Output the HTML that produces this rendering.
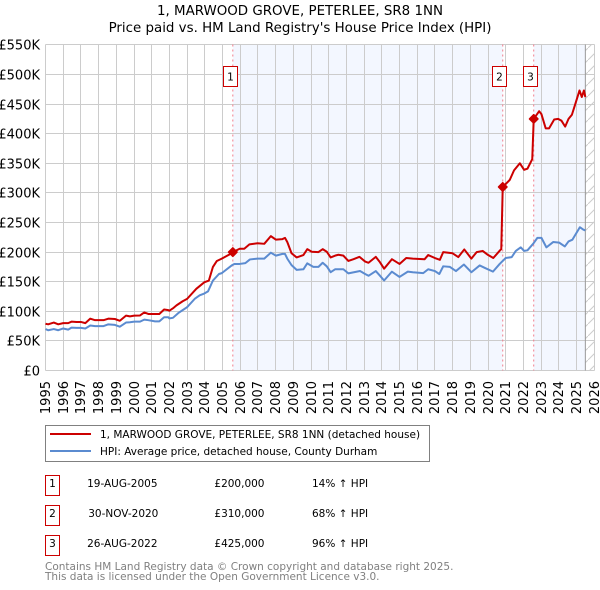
<!DOCTYPE html>
<html lang="en">
<head>
<meta charset="utf-8">
<title>1, MARWOOD GROVE, PETERLEE, SR8 1NN</title>
<style>
html,body{margin:0;padding:0;background:#fff;width:600px;height:590px;overflow:hidden}
svg{display:block}
text{font-family:"DejaVu Sans","Liberation Sans",sans-serif;fill:#000}
</style>
</head>
<body>
<svg id="chart" xmlns="http://www.w3.org/2000/svg" width="600" height="590" viewBox="0 0 600 590">
  <defs>
    <pattern id="hatch" patternUnits="userSpaceOnUse" width="12" height="12">
      <path d="M-1 13 L13 -1" stroke="#cccccc" stroke-width="1"/>
    </pattern>
  </defs>
  <text x="300" y="15" text-anchor="middle" font-size="13.4">1, MARWOOD GROVE, PETERLEE, SR8 1NN</text>
  <text x="300" y="32" text-anchor="middle" font-size="13.4">Price paid vs. HM Land Registry's House Price Index (HPI)</text>
  <g id="plot"></g>

  <g>
    <rect x="45.5" y="425.5" width="384" height="36" fill="#fff" stroke="#808080" stroke-width="1"/>
    <line x1="50" x2="91" y1="434" y2="434" stroke="#cc0000" stroke-width="2"/>
    <text x="100" y="438" font-size="10.5">1, MARWOOD GROVE, PETERLEE, SR8 1NN (detached house)</text>
    <line x1="50" x2="91" y1="451" y2="451" stroke="#5b8bd0" stroke-width="2"/>
    <text x="100" y="455" font-size="10.5">HPI: Average price, detached house, County Durham</text>
  </g>

  <g>
    <rect x="45.5" y="475.5" width="14" height="20" fill="#fff" stroke="#cc0000" stroke-width="1"/>
    <text x="52.5" y="487" text-anchor="middle" font-size="10.5">1</text>
    <text x="122.3" y="487" text-anchor="middle" font-size="10.5">19-AUG-2005</text>
    <text x="264.5" y="487" text-anchor="end" font-size="10.5">£200,000</text>
    <text x="312" y="487" font-size="10.5">14% ↑ HPI</text>

    <rect x="45.5" y="505.5" width="14" height="20" fill="#fff" stroke="#cc0000" stroke-width="1"/>
    <text x="52.5" y="517" text-anchor="middle" font-size="10.5">2</text>
    <text x="123.3" y="517" text-anchor="middle" font-size="10.5">30-NOV-2020</text>
    <text x="264.5" y="517" text-anchor="end" font-size="10.5">£310,000</text>
    <text x="312" y="517" font-size="10.5">68% ↑ HPI</text>

    <rect x="45.5" y="535.5" width="14" height="20" fill="#fff" stroke="#cc0000" stroke-width="1"/>
    <text x="52.5" y="547" text-anchor="middle" font-size="10.5">3</text>
    <text x="122.3" y="547" text-anchor="middle" font-size="10.5">26-AUG-2022</text>
    <text x="264.5" y="547" text-anchor="end" font-size="10.5">£425,000</text>
    <text x="312" y="547" font-size="10.5">96% ↑ HPI</text>
  </g>

  <text x="45" y="570" font-size="10.5" style="fill:#808080">Contains HM Land Registry data © Crown copyright and database right 2025.</text>
  <text x="45" y="580" font-size="10.5" style="fill:#808080">This data is licensed under the Open Government Licence v3.0.</text>
</svg>

<script>
const yearTicks = [1995,1996,1997,1998,1999,2000,2001,2002,2003,2004,2005,2006,2007,2008,2009,2010,2011,2012,2013,2014,2015,2016,2017,2018,2019,2020,2021,2022,2023,2024,2025,2026];
const priceTicks = [0,50,100,150,200,250,300,350,400,450,500,550];
const priceTickLabels = ['£0','£50K','£100K','£150K','£200K','£250K','£300K','£350K','£400K','£450K','£500K','£550K'];

const hpiDates = [1995,1995.15,1995.47,1995.72,1996,1996.28,1996.47,1996.75,1997,1997.25,1997.53,1997.8,1998.28,1998.55,1998.92,1999.2,1999.55,1999.77,2000.02,2000.34,2000.58,2000.81,2001.19,2001.43,2001.7,2001.94,2002,2002.2,2002.5,2002.75,2003,2003.43,2003.71,2003.97,2004.18,2004.46,2004.8,2004.96,2005.52,2005.67,2005.97,2006.29,2006.55,2006.98,2007.36,2007.73,2008.02,2008.39,2008.53,2008.66,2008.9,2009.19,2009.57,2009.79,2010.13,2010.42,2010.66,2010.89,2011.11,2011.36,2011.83,2012.11,2012.77,2013.06,2013.25,2013.66,2013.87,2014.13,2014.57,2015,2015.47,2015.75,2016.34,2016.62,2017,2017.25,2017.47,2017.85,2018.19,2018.64,2019.06,2019.53,2019.81,2020.28,2020.66,2021,2021.34,2021.57,2021.85,2022.04,2022.23,2022.55,2022.79,2023.02,2023.3,2023.68,2024.02,2024.34,2024.55,2024.77,2025.19,2025.38,2025.5];
const hpiValues = [70,68,70,68,71,69,72.4,72,72,71,76,75,75,78,77,74,81,81.5,82.5,82.5,86,85,83,83,90,90,88,89,97,102,107,121,127,130,133.6,152,163,164.5,177.5,180,180,181.4,187.6,189,189,199,194,197,197,189,178,170,171,181,175,175,182,176,166,171,171,164,168,163,160,168,161,152,167,158,167,166,164.5,171,168,163,176,175,168,179,166,177.5,173.5,167,180,190,191.5,202,208,202,203,214,224,224,208,217,216,209.6,218,221,242,238,236.5];

const paidDates = [1995,1995.15,1995.47,1995.72,1996,1996.28,1996.47,1996.75,1997,1997.25,1997.53,1997.8,1998.28,1998.55,1998.92,1999.2,1999.55,1999.77,2000.02,2000.34,2000.58,2000.81,2001.19,2001.43,2001.7,2001.94,2002,2002.2,2002.4,2002.75,2003,2003.52,2003.97,2004.23,2004.46,2004.68,2004.96,2005.52,2005.583,2005.97,2006.23,2006.52,2006.98,2007.36,2007.73,2008.02,2008.39,2008.53,2008.66,2008.9,2009.19,2009.57,2009.79,2010.04,2010.42,2010.66,2010.89,2011.11,2011.36,2011.55,2011.83,2012.11,2012.4,2012.74,2013.06,2013.25,2013.66,2013.87,2014.13,2014.57,2015,2015.38,2015.75,2016.42,2016.62,2017,2017.28,2017.47,2018,2018.32,2018.66,2019.06,2019.36,2019.7,2019.96,2020.3,2020.68,2020.75,2020.833,2021.23,2021.47,2021.8,2022.04,2022.23,2022.5,2022.583,2022.89,2023.02,2023.26,2023.45,2023.74,2023.96,2024.15,2024.36,2024.55,2024.74,2024.92,2025.17,2025.3,2025.42,2025.5];
const paidValues = [79,78,81,78,80,80,82.5,82,82,80,87.6,85,85,87.6,87,84,92.7,91.5,92.7,93,98,95.5,95.5,95.5,103,102,101,105,110,117,121,138,149,152,175,185,189,198,200,205.6,205.6,213,215,214,227,221,222,224,217,198,191,195,205,200.6,200,205,200.6,191,194,195.5,194,185,188,192,184,182,192,184,172,188,180,190,189,188,195,190,187,200,198,191.6,204.5,189,200,202,196,190,203,205,310,322,338,350,339,341,357,425,438,433,409,409,424,425,422,412,425,432,449,473,462,473,462];

const saleDates = [2005.583,2020.833,2022.583];
const saleValues = [200,310,425];
const saleLabels = ['1','2','3'];
const dataEndYear = 2025.5;

const NS = 'http://www.w3.org/2000/svg';
const plot = document.getElementById('plot');
const xScale = function (year) { return 45.5 + (year - 1995) * 17.7; };
const yScale = function (k) { return 370.5 - k * 0.592; };
const crisp = function (v) { return Math.floor(v) + 0.5; };
const xMin = xScale(1995), xMax = crisp(xScale(2026));
const yMin = yScale(0), yMax = crisp(yScale(550));

function make(tag, attrs, parent) {
  const el = document.createElementNS(NS, tag);
  Object.keys(attrs).forEach(function (k) { el.setAttribute(k, attrs[k]); });
  (parent || plot).appendChild(el);
  return el;
}

/* shaded periods */
const xSale1 = xScale(saleDates[0]), xSale2 = xScale(saleDates[1]), xSale3 = xScale(saleDates[2]), xEnd = xScale(dataEndYear);
const shadeA = make('rect', {x: xSale1, y: yMax, width: xSale2 - xSale1, height: yMin - yMax, fill: '#f3f7ff'});


const shadeB = make('rect', {x: xSale3, y: yMax, width: xEnd - xSale3, height: yMin - yMax, fill: '#f3f7ff'});


const hatchArea = make('rect', {x: xEnd, y: yMax, width: xMax - xEnd, height: yMin - yMax, fill: 'url(#hatch)'});



/* grid and tick labels */
yearTicks.forEach(function (yr) {
  const x = crisp(xScale(yr));
  const grid = make('line', {x1: x, x2: x, y1: yMax, y2: yMin, stroke: '#cccccc', 'stroke-width': 1});
  
  
  const label = make('text', {transform: 'translate(' + (x + 4.5) + ',381) rotate(-90)', 'text-anchor': 'end', 'font-size': 13});
  
  
  label.textContent = yr;
});
priceTicks.forEach(function (k, i) {
  const y = crisp(yScale(k));
  const grid = make('line', {x1: xMin, x2: xMax, y1: y, y2: y, stroke: '#cccccc', 'stroke-width': 1});
  
  
  const label = make('text', {x: 40, y: y + 5, 'text-anchor': 'end', 'font-size': 13});
  
  
  label.textContent = priceTickLabels[i];
});

/* end of data rule */
const endRule = make('line', {x1: xEnd, x2: xEnd, y1: yMax, y2: yMin, stroke: '#999999', 'stroke-width': 1});



/* sale guide lines */
saleDates.forEach(function (d) {
  const guide = make('line', {x1: xScale(d), x2: xScale(d), y1: yMax, y2: yMin, stroke: '#f27d8c', 'stroke-width': 1, 'stroke-dasharray': '2 3'});
  
  
});

function pointsOf(dates, values) {
  return dates.map(function (d, i) { return xScale(d).toFixed(2) + ',' + yScale(values[i]).toFixed(2); }).join(' ');
}

const hpiLine = make('polyline', {points: pointsOf(hpiDates, hpiValues), fill: 'none', stroke: '#5b8bd0', 'stroke-width': 2, 'stroke-linejoin': 'round'});


const paidLine = make('polyline', {points: pointsOf(paidDates, paidValues), fill: 'none', stroke: '#cc0000', 'stroke-width': 2, 'stroke-linejoin': 'round'});



/* sale markers and flags */
saleDates.forEach(function (d, i) {
  const cx = xScale(d), cy = yScale(saleValues[i]), r = 4.2;
  const marker = make('polygon', {points: (cx - r) + ',' + cy + ' ' + cx + ',' + (cy - r) + ' ' + (cx + r) + ',' + cy + ' ' + cx + ',' + (cy + r), fill: '#cc0000', stroke: '#cc0000', 'stroke-width': 1.6, 'stroke-linejoin': 'round'});
  
  
  const fx = Math.round(cx - 10.3) + 0.5;
  const flag = make('rect', {x: fx, y: 66.5, width: 14, height: 20, fill: '#ffffff', stroke: '#cc0000', 'stroke-width': 1});
  
  
  const flagText = make('text', {x: fx + 7, y: 80.5, 'text-anchor': 'middle', 'font-size': 10.5});
  
  
  flagText.textContent = saleLabels[i];
});
</script>
</body>
</html>
